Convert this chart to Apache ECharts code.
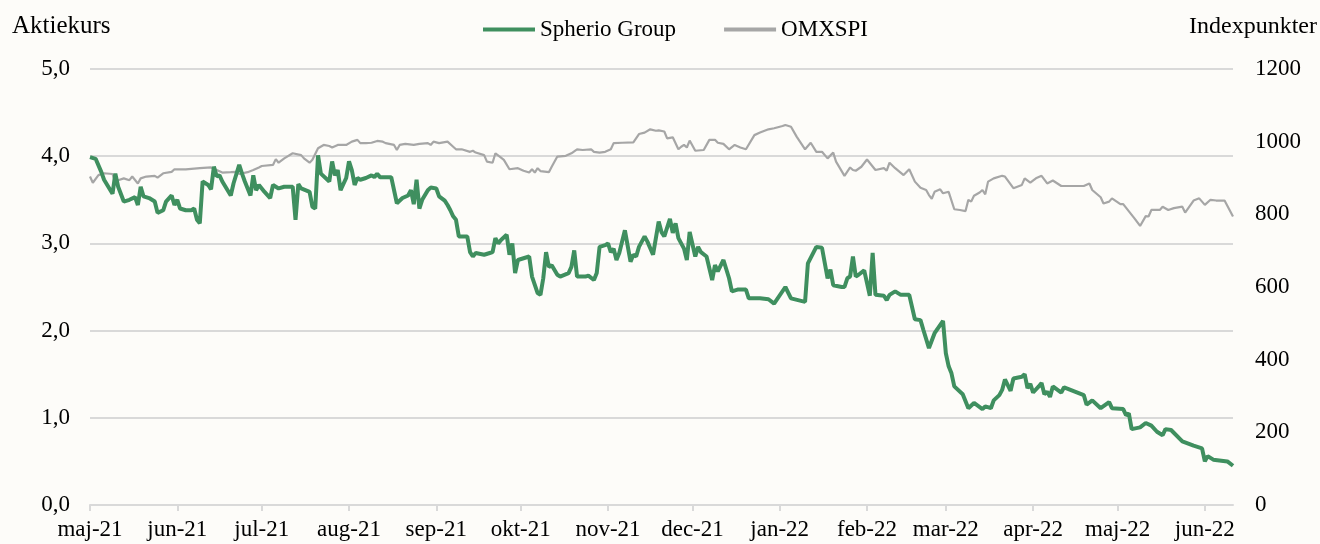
<!DOCTYPE html>
<html>
<head>
<meta charset="utf-8">
<script src="https://cdn.jsdelivr.net/npm/echarts@6/dist/echarts.min.js"></script>
<style>
  html, body { margin: 0; padding: 0; background: #fdfcf9; }
  #chart { width: 1320px; height: 544px; }
</style>
</head>
<body>
<div id="chart"></div>
<script>
// månedsnavne til x-aksen
const monthNames = ['jan', 'feb', 'mar', 'apr', 'maj', 'jun', 'jul', 'aug', 'sep', 'okt', 'nov', 'dec'];

// Spherio Group aktiekurs
const spherioDates = [
  '2021-05-01','2021-05-03','2021-05-05','2021-05-06','2021-05-09','2021-05-10','2021-05-11','2021-05-13','2021-05-15','2021-05-17','2021-05-18','2021-05-19','2021-05-20','2021-05-22','2021-05-24','2021-05-25','2021-05-27','2021-05-28','2021-05-30','2021-05-31',
  '2021-06-01','2021-06-02','2021-06-04','2021-06-06','2021-06-07','2021-06-08','2021-06-09','2021-06-10','2021-06-12','2021-06-13','2021-06-14','2021-06-15','2021-06-16','2021-06-17','2021-06-20','2021-06-21','2021-06-23','2021-06-24','2021-06-25','2021-06-27','2021-06-28','2021-06-29','2021-06-30',
  '2021-07-02','2021-07-04','2021-07-05','2021-07-07','2021-07-09','2021-07-12','2021-07-13','2021-07-14','2021-07-15','2021-07-18','2021-07-19','2021-07-20','2021-07-21','2021-07-22','2021-07-25','2021-07-26','2021-07-27','2021-07-28','2021-07-29','2021-07-31',
  '2021-08-01','2021-08-02','2021-08-03','2021-08-04','2021-08-05','2021-08-07','2021-08-09','2021-08-10','2021-08-11','2021-08-12','2021-08-14','2021-08-16','2021-08-18','2021-08-20','2021-08-22','2021-08-23','2021-08-24','2021-08-25','2021-08-26','2021-08-27','2021-08-29','2021-08-30',
  '2021-09-01','2021-09-02','2021-09-04','2021-09-05','2021-09-06','2021-09-07','2021-09-08','2021-09-09','2021-09-12','2021-09-13','2021-09-14','2021-09-15','2021-09-18','2021-09-20','2021-09-21','2021-09-22','2021-09-23','2021-09-24','2021-09-26','2021-09-27','2021-09-28','2021-09-29','2021-09-30',
  '2021-10-02','2021-10-04','2021-10-05','2021-10-07','2021-10-08','2021-10-09','2021-10-10','2021-10-11','2021-10-12','2021-10-14','2021-10-15','2021-10-18','2021-10-19','2021-10-20','2021-10-21','2021-10-24','2021-10-25','2021-10-27','2021-10-28','2021-10-29','2021-10-31',
  '2021-11-01','2021-11-02','2021-11-03','2021-11-04','2021-11-05','2021-11-07','2021-11-09','2021-11-10','2021-11-11','2021-11-12','2021-11-14','2021-11-15','2021-11-17','2021-11-19','2021-11-20','2021-11-21','2021-11-23','2021-11-24','2021-11-25','2021-11-26','2021-11-28','2021-11-29','2021-11-30',
  '2021-12-02','2021-12-03','2021-12-04','2021-12-06','2021-12-08','2021-12-09','2021-12-10','2021-12-12','2021-12-14','2021-12-15','2021-12-17','2021-12-20','2021-12-21','2021-12-25','2021-12-28','2021-12-30',
  '2022-01-03','2022-01-05','2022-01-10','2022-01-11','2022-01-14','2022-01-16','2022-01-18','2022-01-19','2022-01-20','2022-01-23','2022-01-24','2022-01-25','2022-01-26','2022-01-27','2022-01-28','2022-01-29','2022-01-31',
  '2022-02-02','2022-02-03','2022-02-04','2022-02-07','2022-02-08','2022-02-09','2022-02-11','2022-02-13','2022-02-16','2022-02-18','2022-02-20','2022-02-21','2022-02-23','2022-02-25','2022-02-28',
  '2022-03-01','2022-03-02','2022-03-03','2022-03-04','2022-03-07','2022-03-09','2022-03-11','2022-03-14','2022-03-15','2022-03-17','2022-03-18','2022-03-20','2022-03-21','2022-03-22','2022-03-24','2022-03-25','2022-03-28','2022-03-29','2022-03-30','2022-03-31',
  '2022-04-01','2022-04-03','2022-04-04','2022-04-05','2022-04-06','2022-04-07','2022-04-08','2022-04-11','2022-04-12','2022-04-19','2022-04-20','2022-04-22','2022-04-25','2022-04-28','2022-04-29',
  '2022-05-03','2022-05-04','2022-05-05','2022-05-06','2022-05-09','2022-05-11','2022-05-13','2022-05-15','2022-05-17','2022-05-18','2022-05-20','2022-05-24','2022-05-28','2022-05-31',
  '2022-06-01','2022-06-02','2022-06-04','2022-06-09','2022-06-11'
];
const spherioValues = [
  3.99,3.97,3.82,3.73,3.57,3.80,3.65,3.48,3.50,3.53,3.44,3.65,3.54,3.52,3.48,3.35,3.38,3.48,3.55,3.44,
  3.50,3.40,3.38,3.38,3.40,3.27,3.23,3.71,3.67,3.62,3.88,3.77,3.78,3.71,3.55,3.69,3.90,3.80,3.71,3.55,3.78,3.61,3.67,
  3.59,3.52,3.67,3.63,3.65,3.65,3.27,3.68,3.63,3.59,3.42,3.40,4.01,3.80,3.71,3.94,3.78,3.84,3.61,3.75,
  3.94,3.84,3.67,3.75,3.73,3.75,3.78,3.76,3.80,3.76,3.76,3.76,3.46,3.52,3.55,3.61,3.45,3.73,3.40,3.50,3.61,3.64,
  3.63,3.54,3.49,3.44,3.38,3.31,3.27,3.08,3.08,2.90,2.85,2.89,2.87,2.89,2.90,3.06,3.00,3.04,3.10,2.87,3.00,2.66,2.81,
  2.83,2.85,2.62,2.43,2.41,2.60,2.90,2.73,2.75,2.64,2.62,2.66,2.73,2.92,2.62,2.62,2.63,2.58,2.66,2.96,2.98,
  3.00,2.90,2.94,2.81,2.89,3.15,2.79,2.87,2.85,2.96,3.08,3.02,2.87,3.25,3.13,3.08,3.28,3.12,3.23,3.06,2.94,2.81,3.13,
  2.85,2.96,2.90,2.85,2.58,2.75,2.68,2.81,2.60,2.45,2.47,2.47,2.37,2.37,2.36,2.31,
  2.50,2.37,2.33,2.77,2.96,2.95,2.60,2.70,2.52,2.50,2.50,2.60,2.62,2.85,2.62,2.64,2.69,
  2.40,2.89,2.41,2.40,2.35,2.41,2.45,2.41,2.41,2.13,2.12,2.01,1.80,1.97,2.11,
  1.74,1.59,1.51,1.36,1.27,1.11,1.17,1.10,1.13,1.11,1.20,1.26,1.32,1.44,1.31,1.45,1.47,1.50,1.34,1.39,
  1.29,1.36,1.40,1.27,1.30,1.24,1.36,1.29,1.35,1.26,1.15,1.20,1.11,1.18,1.11,
  1.10,1.03,1.05,0.87,0.89,0.94,0.91,0.84,0.80,0.87,0.86,0.73,0.68,0.65,
  0.50,0.56,0.52,0.50,0.45
];

// OMXSPI indeks
const omxDates = [
  '2021-05-01','2021-05-02','2021-05-04','2021-05-06','2021-05-09','2021-05-10','2021-05-11','2021-05-13','2021-05-15','2021-05-16','2021-05-18','2021-05-19','2021-05-21','2021-05-24','2021-05-25','2021-05-27','2021-05-30','2021-05-31',
  '2021-06-04','2021-06-09','2021-06-13','2021-06-15','2021-06-17','2021-06-20','2021-06-22','2021-06-23','2021-06-26','2021-06-28','2021-06-30',
  '2021-07-01','2021-07-05','2021-07-06','2021-07-07','2021-07-09','2021-07-12','2021-07-15','2021-07-16','2021-07-18','2021-07-19','2021-07-21','2021-07-23','2021-07-25','2021-07-26','2021-07-28','2021-07-31',
  '2021-08-02','2021-08-04','2021-08-05','2021-08-07','2021-08-09','2021-08-11','2021-08-13','2021-08-14','2021-08-17','2021-08-18','2021-08-19','2021-08-21','2021-08-24','2021-08-26','2021-08-29','2021-08-30','2021-08-31',
  '2021-09-02','2021-09-05','2021-09-07','2021-09-08','2021-09-10','2021-09-13','2021-09-14','2021-09-15','2021-09-18','2021-09-19','2021-09-21','2021-09-22','2021-09-24','2021-09-25','2021-09-27','2021-09-30',
  '2021-10-02','2021-10-04','2021-10-05','2021-10-06','2021-10-07','2021-10-08','2021-10-11','2021-10-12','2021-10-14','2021-10-17','2021-10-19','2021-10-21','2021-10-23','2021-10-26','2021-10-27','2021-10-29','2021-10-31',
  '2021-11-02','2021-11-03','2021-11-06','2021-11-10','2021-11-12','2021-11-14','2021-11-16','2021-11-18','2021-11-19','2021-11-21','2021-11-22','2021-11-24','2021-11-26','2021-11-27','2021-11-28','2021-11-29','2021-11-30',
  '2021-12-02','2021-12-05','2021-12-07','2021-12-09','2021-12-10','2021-12-12','2021-12-14','2021-12-16','2021-12-18','2021-12-20','2021-12-23','2021-12-25','2021-12-28','2021-12-30',
  '2022-01-02','2022-01-03','2022-01-05','2022-01-07','2022-01-10','2022-01-12','2022-01-14','2022-01-16','2022-01-18','2022-01-20','2022-01-21','2022-01-24','2022-01-26','2022-01-27','2022-01-28','2022-01-30',
  '2022-02-01','2022-02-04','2022-02-07','2022-02-08','2022-02-09','2022-02-11','2022-02-14','2022-02-16','2022-02-18','2022-02-20','2022-02-22','2022-02-23','2022-02-24','2022-02-25','2022-02-27','2022-02-28',
  '2022-03-02','2022-03-04','2022-03-06','2022-03-08','2022-03-09','2022-03-10','2022-03-11','2022-03-13','2022-03-14','2022-03-15','2022-03-16','2022-03-18','2022-03-21','2022-03-22','2022-03-25','2022-03-28','2022-03-29','2022-03-31',
  '2022-04-02','2022-04-04','2022-04-06','2022-04-08','2022-04-11','2022-04-19','2022-04-21','2022-04-22','2022-04-25','2022-04-26','2022-04-28','2022-04-29',
  '2022-05-02','2022-05-03','2022-05-07','2022-05-09','2022-05-11','2022-05-12','2022-05-13','2022-05-16','2022-05-17','2022-05-19','2022-05-21','2022-05-24','2022-05-25','2022-05-28','2022-05-30',
  '2022-06-01','2022-06-03','2022-06-05','2022-06-08','2022-06-11'
];
const omxValues = [
  904,887,908,913,911,887,894,899,894,904,885,899,904,906,901,913,917,924,
  924,927,929,922,915,916,917,911,916,922,929,
  933,936,952,942,954,968,963,954,942,950,982,991,988,984,991,991,
  1000,1005,996,996,997,1002,1000,996,991,977,991,994,991,994,996,991,1000,
  996,1000,986,979,979,972,975,970,963,945,942,968,956,950,924,927,
  920,915,924,915,927,919,916,931,959,961,968,979,977,979,972,970,972,
  979,996,997,998,1021,1025,1034,1030,1031,1028,1009,1012,979,986,991,984,1003,
  975,977,1005,1005,997,994,979,991,984,979,1018,1025,1034,1037,
  1043,1046,1041,1014,979,997,972,972,954,970,945,906,929,922,920,931,
  951,922,927,920,942,927,908,924,890,873,867,853,843,862,869,858,
  862,814,812,809,840,835,851,860,867,855,890,899,906,904,872,881,899,887,
  899,906,885,893,878,878,885,867,847,830,835,844,
  828,828,789,768,795,794,812,812,821,812,817,821,805,838,844,
  826,840,838,838,794
];

const leftTicks = { min: 0, max: 5, step: 1 };
const rightTicks = { min: 0, max: 1200, step: 200 };

const fontFamily = 'Liberation Serif';
const textColor = '#000000';
const gridColor = '#d9d9d9';
const greenColor = '#3f8f5f';
const greyColor = '#a6a6a6';

const chartDom = document.getElementById('chart');
const myChart = echarts.init(chartDom, null, { renderer: 'canvas' });

const option = {
  backgroundColor: '#fdfcf9',
  animation: false,
  textStyle: { fontFamily: fontFamily, color: textColor },
  title: [
    {
      text: 'Aktiekurs',
      left: 7,
      top: 9,
      textStyle: { fontFamily: fontFamily, fontSize: 25, fontWeight: 'normal', color: textColor }
    },
    {
      text: 'Indexpunkter',
      right: -2,
      top: 10,
      textStyle: { fontFamily: fontFamily, fontSize: 24, fontWeight: 'normal', color: textColor }
    }
  ],
  legend: {
    left: 478,
    top: 13,
    itemWidth: 52,
    itemHeight: 4,
    itemGap: 48,
    textStyle: { fontFamily: fontFamily, fontSize: 23, color: textColor },
    data: [
      { name: 'Spherio Group', icon: 'rect', itemStyle: { color: greenColor } },
      { name: 'OMXSPI', icon: 'rect', itemStyle: { color: greyColor } }
    ]
  },
  grid: {
    left: 90,
    right: 87,
    top: 69,
    bottom: 39
  },
  xAxis: {
    type: 'time',
    min: '2021-05-01',
    max: '2022-06-11',
    splitNumber: 14,
    minInterval: 28 * 24 * 3600 * 1000,
    maxInterval: 31 * 24 * 3600 * 1000,
    axisLine: { show: true, lineStyle: { color: gridColor, width: 2 } },
    axisTick: { show: true, length: 6, lineStyle: { color: gridColor, width: 2 } },
    splitLine: { show: false },
    axisLabel: {
      fontFamily: fontFamily,
      fontSize: 23,
      color: textColor,
      margin: 13,
      hideOverlap: false,
      formatter: function (value) {
        const d = new Date(value);
        const yy = String(d.getFullYear()).slice(2);
        return monthNames[d.getMonth()] + '-' + yy;
      }
    }
  },
  yAxis: [
    {
      type: 'value',
      min: leftTicks.min,
      max: leftTicks.max,
      interval: leftTicks.step,
      axisLine: { show: false },
      axisTick: { show: false },
      splitLine: { show: true, lineStyle: { color: gridColor, width: 2 } },
      axisLabel: {
        fontFamily: fontFamily,
        fontSize: 23,
        color: textColor,
        margin: 20,
        formatter: function (v) { return v.toFixed(1).replace('.', ','); }
      }
    },
    {
      type: 'value',
      min: rightTicks.min,
      max: rightTicks.max,
      interval: rightTicks.step,
      position: 'right',
      axisLine: { show: false },
      axisTick: { show: false },
      splitLine: { show: false },
      axisLabel: {
        fontFamily: fontFamily,
        fontSize: 23,
        color: textColor,
        margin: 22,
        align: 'left',
        formatter: function (v) { return String(v); }
      }
    }
  ],
  series: [
    {
      name: 'Spherio Group',
      type: 'line',
      yAxisIndex: 0,
      showSymbol: false,
      symbol: 'none',
      z: 3,
      color: greenColor,
      lineStyle: { color: greenColor, width: 4 },
      data: spherioDates.map((d, i) => [d, spherioValues[i]])
    },
    {
      name: 'OMXSPI',
      type: 'line',
      yAxisIndex: 1,
      showSymbol: false,
      symbol: 'none',
      z: 2,
      color: greyColor,
      lineStyle: { color: greyColor, width: 2.2 },
      data: omxDates.map((d, i) => [d, omxValues[i]])
    }
  ]
};

myChart.setOption(option);
</script>
</body>
</html>
